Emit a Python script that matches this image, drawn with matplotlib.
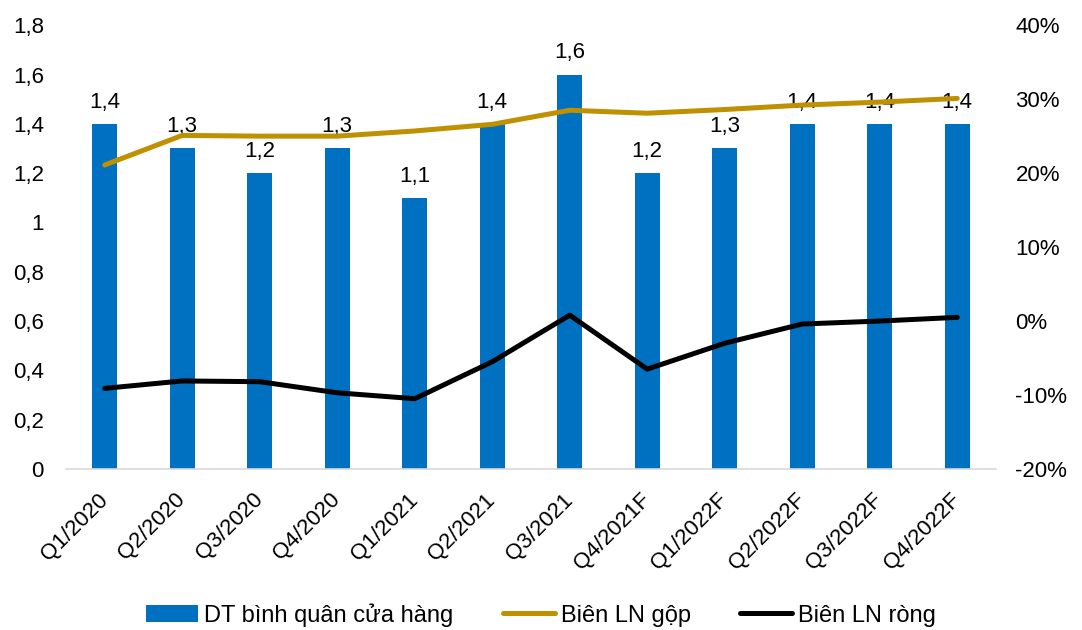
import matplotlib.pyplot as plt
import numpy as np

plt.rcParams['font.family'] = ['Liberation Sans', 'DejaVu Sans']

quarters = ['Q1/2020', 'Q2/2020', 'Q3/2020', 'Q4/2020', 'Q1/2021', 'Q2/2021',
            'Q3/2021', 'Q4/2021F', 'Q1/2022F', 'Q2/2022F', 'Q3/2022F', 'Q4/2022F']
dt_binh_quan = [1.4, 1.3, 1.2, 1.3, 1.1, 1.4, 1.6, 1.2, 1.3, 1.4, 1.4, 1.4]
bien_gop = [21.1, 25.1, 25.0, 25.0, 25.7, 26.6, 28.5, 28.1, 28.6, 29.2, 29.6, 30.1]
bien_rong = [-9.1, -8.1, -8.2, -9.7, -10.5, -5.5, 0.8, -6.5, -3.0, -0.4, 0.0, 0.5]

blue = '#0070C0'
gold = '#BF9000'
fs = 16


def fmt(v):
    return ('%.1f' % v).replace('.', ',')


fig = plt.figure(figsize=(10.82, 6.3), dpi=100)
ax = fig.add_axes([0.061, 0.2556, 0.8595, 0.7044])
ax2 = ax.twinx()

x = np.arange(len(quarters))
bars = ax.bar(x, dt_binh_quan, width=0.32, color=blue, label='DT bình quân cửa hàng', zorder=2)
for xi, v in zip(x, dt_binh_quan):
    ax.text(xi, v + 0.045, fmt(v), ha='center', va='bottom', fontsize=fs)

l1, = ax2.plot(x, bien_gop, color=gold, linewidth=3.6, solid_capstyle='round', label='Biên LN gộp')
l2, = ax2.plot(x, bien_rong, color='black', linewidth=3.6, solid_capstyle='round', label='Biên LN ròng')

ax.set_xlim(-0.5, len(quarters) - 0.5)
ax.set_ylim(0, 1.8)
ax.set_yticks(np.arange(0, 1.81, 0.2))
ax.set_yticklabels(['0', '0,2', '0,4', '0,6', '0,8', '1', '1,2', '1,4', '1,6', '1,8'])
ax2.set_ylim(-20, 40)
ax2.set_yticks(np.arange(-20, 41, 10))
ax2.set_yticklabels(['%d%%' % t for t in range(-20, 41, 10)])

ax.set_xticks(x)
ax.set_xticklabels(quarters, rotation=45, ha='right', va='center',
                   rotation_mode='anchor', fontsize=fs)

for a in (ax, ax2):
    for s in ('top', 'left', 'right', 'bottom'):
        a.spines[s].set_visible(False)
    a.tick_params(length=0, labelsize=fs)
ax.spines['bottom'].set_visible(True)
ax.spines['bottom'].set_color('#D9D9D9')
ax.spines['bottom'].set_linewidth(1.2)
ax.tick_params(axis='y', pad=16)
ax2.tick_params(axis='y', pad=14)
ax.tick_params(axis='x', pad=20)

fig.legend(handles=[bars, l1, l2], loc='center', bbox_to_anchor=(0.5, 0.024),
           ncol=3, frameon=False, fontsize=17, handlelength=2.2, columnspacing=2.1,
           handletextpad=0.25)

fig.savefig('out.png', dpi=100)
